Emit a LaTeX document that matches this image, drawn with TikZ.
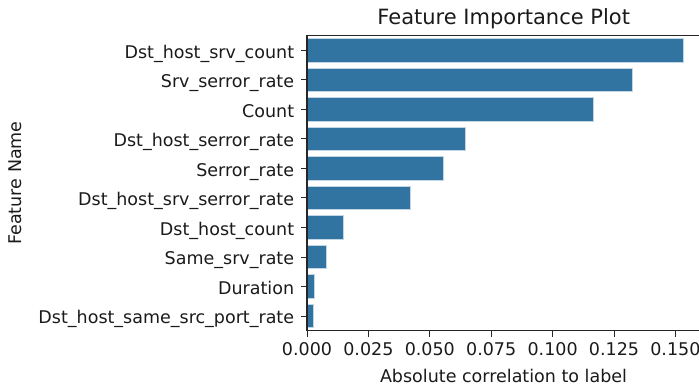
\documentclass[tikz,border=0pt]{standalone}
\usepackage{fontspec}
\setmainfont{DejaVu Sans}
\definecolor{barblue}{HTML}{3274A1}
\definecolor{inkgray}{HTML}{1A1A1A}
\begin{document}
\begin{tikzpicture}[x=0.5pt,y=-0.5pt,
  bar/.style={fill=barblue, draw=barblue!30, line width=0.4pt},
  spine/.style={draw=black!85, line width=0.7pt},
  tickmark/.style={draw=black!85, line width=0.45pt},
  ticklab/.style={font=\fontsize{8.75}{10}\selectfont, text=inkgray, inner sep=0pt},
  axlab/.style={font=\fontsize{8.75}{10}\selectfont, text=inkgray, inner sep=0pt},
  titlelab/.style={font=\fontsize{10.5}{12}\selectfont, text=inkgray, inner sep=0pt}]
\useasboundingbox (0,0) rectangle (699,387);

% bars: row index / right end of bar / feature name
\foreach \i/\xr/\lab [count=\n] in {
  0/683.3/Dst\_host\_srv\_count,
  1/632.0/Srv\_serror\_rate,
  2/593.7/Count,
  3/465.0/Dst\_host\_serror\_rate,
  4/443.3/Serror\_rate,
  5/410.3/Dst\_host\_srv\_serror\_rate,
  6/343.7/Dst\_host\_count,
  7/326.0/Same\_srv\_rate,
  8/314.3/Duration,
  9/313.3/Dst\_host\_same\_src\_port\_rate}{
  \pgfmathsetmacro\yc{50.3+29.52*\i}
  \path[bar] (307,\yc-11.9) rectangle (\xr,\yc+11.9);
  \draw[tickmark] (301,\yc) -- (307,\yc);
  \node[ticklab, anchor=base east] (ylab\n) at (294.5,\yc+7.8) {\lab};
}

% x ticks and labels
\foreach \v [count=\n] in {0.000,0.025,0.050,0.075,0.100,0.125,0.150}{
  \pgfmathsetmacro\xt{307+\v*2456}
  \draw[tickmark] (\xt,330.7) -- (\xt,336.7);
  \node[ticklab, anchor=base] (xlab\n) at (\xt,355) {\v};
}

% spines (the right one lies past the page edge)
\draw[spine] (699,35.5) -- (307,35.5) -- (307,330.7) -- (699,330.7);

\node[titlelab, anchor=base] (title) at (503.7,24) {Feature Importance Plot};
\node[axlab, anchor=base] (xaxis) at (503.5,382) {Absolute correlation to label};
\node[axlab, rotate=90, anchor=center] (yaxis) at (15.5,183) {Feature Name};
\end{tikzpicture}
\end{document}
